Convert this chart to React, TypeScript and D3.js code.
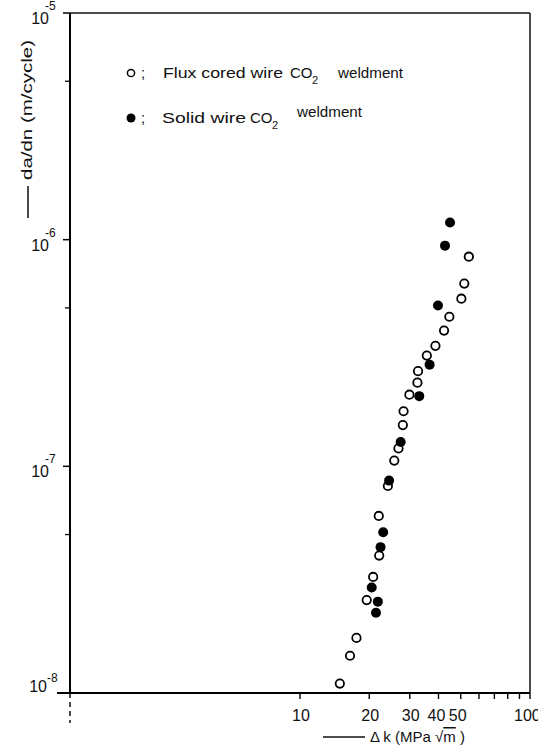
import * as d3 from "d3";
import { useEffect, useRef } from "react";

// Flux cored wire CO2 weldment (open circles)
const fluxDK = [54.2, 51.8, 50.3, 44.6, 42.3, 38.8, 35.6, 32.6, 32.4, 29.9, 28.2, 28.0, 26.8, 25.7, 24.1, 22.0, 22.1, 20.8, 19.5, 17.6, 16.5, 14.9];
const fluxRate = [8.41e-7, 6.4e-7, 5.49e-7, 4.57e-7, 3.97e-7, 3.4e-7, 3.08e-7, 2.63e-7, 2.34e-7, 2.07e-7, 1.75e-7, 1.52e-7, 1.2e-7, 1.06e-7, 8.19e-8, 6.04e-8, 4.04e-8, 3.25e-8, 2.57e-8, 1.75e-8, 1.46e-8, 1.1e-8];

// Solid wire CO2 weldment (filled circles)
const solidDK = [44.9, 42.7, 39.8, 36.6, 33.0, 27.4, 24.4, 23.0, 22.4, 20.5, 21.8, 21.4];
const solidRate = [1.19e-6, 9.41e-7, 5.12e-7, 2.81e-7, 2.04e-7, 1.28e-7, 8.65e-8, 5.12e-8, 4.4e-8, 2.92e-8, 2.53e-8, 2.26e-8];

const xTicks = [1, 10, 20, 30, 40, 50, 60, 70, 80, 90, 100];
const xTickLabels = [10, 20, 30, 40, 50, 100];
const yMajor = [1e-5, 1e-6, 1e-7, 1e-8];
const yExponents = ["-5", "-6", "-7", "-8"];
const yMinor = [5e-6, 5e-7, 5e-8];

const FONT = "'Liberation Sans', Arial, sans-serif";

const App = () => {
  const svgRef = useRef<SVGSVGElement>(null);

  useEffect(() => {
    const svg = d3.select(svgRef.current);
    svg.selectAll("*").remove();

    const width = 538;
    const height = 745;
    const left = 70, right = 530, top = 13, bottom = 693;

    svg.attr("width", width).attr("height", height).style("font-family", FONT);
    svg.append("rect").attr("width", width).attr("height", height).attr("fill", "#fff");

    const x = d3.scaleLog().domain([1, 100]).range([left, right]);
    const y = d3.scaleLog().domain([1e-8, 1e-5]).range([bottom, top]);

    // frame
    svg.append("line").attr("x1", left).attr("x2", right).attr("y1", top).attr("y2", top)
      .attr("stroke", "#111").attr("stroke-width", 1.5);
    svg.append("line").attr("x1", right).attr("x2", right).attr("y1", top).attr("y2", bottom)
      .attr("stroke", "#111").attr("stroke-width", 1.5);
    svg.append("line").attr("x1", left).attr("x2", left).attr("y1", top).attr("y2", bottom)
      .attr("stroke", "#000").attr("stroke-width", 2);
    svg.append("line").attr("x1", left - 13).attr("x2", right).attr("y1", bottom).attr("y2", bottom)
      .attr("stroke", "#000").attr("stroke-width", 1.8);

    // y ticks
    svg.selectAll(".ymaj").data(yMajor).enter().append("line")
      .attr("x1", left - 7).attr("x2", left).attr("y1", (d) => y(d)).attr("y2", (d) => y(d))
      .attr("stroke", "#000").attr("stroke-width", 1.5);
    svg.selectAll(".ymin").data(yMinor).enter().append("line")
      .attr("x1", left - 5).attr("x2", left).attr("y1", (d) => y(d)).attr("y2", (d) => y(d))
      .attr("stroke", "#000").attr("stroke-width", 1.3);

    const yl = svg.selectAll(".ylab").data(yMajor).enter().append("g");
    yl.append("text")
      .attr("x", (d, i) => (i === 3 ? 47 : 49)).attr("y", (d, i) => y(d) + (i === 3 ? -1 : 11))
      .attr("text-anchor", "end").attr("font-size", 16).attr("fill", "#111")
      .text("10");
    yl.append("text")
      .attr("x", (d, i) => (i === 3 ? 47 : 45)).attr("y", (d, i) => y(d) - (i === 3 ? 11 : 3))
      .attr("font-size", 12).attr("fill", "#111")
      .text((d, i) => yExponents[i]);

    // x ticks
    svg.selectAll(".xt").data(xTicks).enter().append("line")
      .attr("x1", (d) => x(d)).attr("x2", (d) => x(d))
      .attr("y1", bottom).attr("y2", (d) => (d === 1 ? bottom + 30 : bottom + 6))
      .attr("stroke", "#000").attr("stroke-width", 1.4)
      .attr("stroke-dasharray", (d) => (d === 1 ? "5 4" : null));
    svg.selectAll(".xl").data(xTickLabels).enter().append("text")
      .attr("x", (d) => x(d) + (d === 40 ? -2 : d === 50 ? -3 : d === 100 ? -16 : 1)).attr("y", 721)
      .attr("text-anchor", (d) => (d === 100 ? "start" : "middle"))
      .attr("font-size", 16).attr("fill", "#111")
      .text((d) => String(d));

    // axis titles
    svg.append("line").attr("x1", 323).attr("x2", 365).attr("y1", 737).attr("y2", 737)
      .attr("stroke", "#111").attr("stroke-width", 1.3);
    const xt = svg.append("text").attr("x", 370).attr("y", 742).attr("font-size", 15).attr("fill", "#111");
    xt.append("tspan").text("Δ k (MPa √");
    xt.append("tspan").style("text-decoration", "overline").text("m");
    xt.append("tspan").text(" )");

    svg.append("line").attr("x1", 28).attr("x2", 28).attr("y1", 186).attr("y2", 218)
      .attr("stroke", "#111").attr("stroke-width", 1.5);
    svg.append("text")
      .attr("transform", "translate(32,180) rotate(-90)")
      .attr("font-size", 15).attr("fill", "#111")
      .attr("textLength", 140).attr("lengthAdjust", "spacingAndGlyphs")
      .text("da/dn (m/cycle)");

    // data points
    const fluxPts = fluxDK.map((k, i) => ({ k, r: fluxRate[i] }));
    const solidPts = solidDK.map((k, i) => ({ k, r: solidRate[i] }));

    svg.selectAll(".flux").data(fluxPts).enter().append("circle")
      .attr("cx", (d) => x(d.k)).attr("cy", (d) => y(d.r)).attr("r", 4.2)
      .attr("fill", "#fff").attr("stroke", "#000").attr("stroke-width", 1.8);
    svg.selectAll(".solid").data(solidPts).enter().append("circle")
      .attr("cx", (d) => x(d.k)).attr("cy", (d) => y(d.r)).attr("r", 5)
      .attr("fill", "#000");

    // legend
    const lg = svg.append("g").attr("fill", "#111").attr("font-size", 15);
    lg.append("circle").attr("cx", 131).attr("cy", 73).attr("r", 3.6)
      .attr("fill", "#fff").attr("stroke", "#000").attr("stroke-width", 1.5);
    lg.append("text").attr("x", 141).attr("y", 78).text(";");
    lg.append("text").attr("x", 163).attr("y", 78)
      .attr("textLength", 120).attr("lengthAdjust", "spacingAndGlyphs").text("Flux cored wire");
    lg.append("text").attr("x", 290).attr("y", 78).text("CO");
    lg.append("text").attr("x", 312).attr("y", 84).attr("font-size", 11).text("2");
    lg.append("text").attr("x", 338).attr("y", 78)
      .attr("textLength", 65).attr("lengthAdjust", "spacingAndGlyphs").text("weldment");

    lg.append("circle").attr("cx", 131).attr("cy", 118).attr("r", 4.5).attr("fill", "#000");
    lg.append("text").attr("x", 141).attr("y", 123).text(";");
    lg.append("text").attr("x", 162).attr("y", 123)
      .attr("textLength", 84).attr("lengthAdjust", "spacingAndGlyphs").text("Solid wire");
    lg.append("text").attr("x", 250).attr("y", 123).text("CO");
    lg.append("text").attr("x", 272).attr("y", 129).attr("font-size", 11).text("2");
    lg.append("text").attr("x", 297).attr("y", 117)
      .attr("textLength", 65).attr("lengthAdjust", "spacingAndGlyphs").text("weldment");
  }, []);

  return (
    <div style={{ position: "absolute", left: 0, top: 0 }}>
      <svg ref={svgRef}></svg>
    </div>
  );
};

export default App;
